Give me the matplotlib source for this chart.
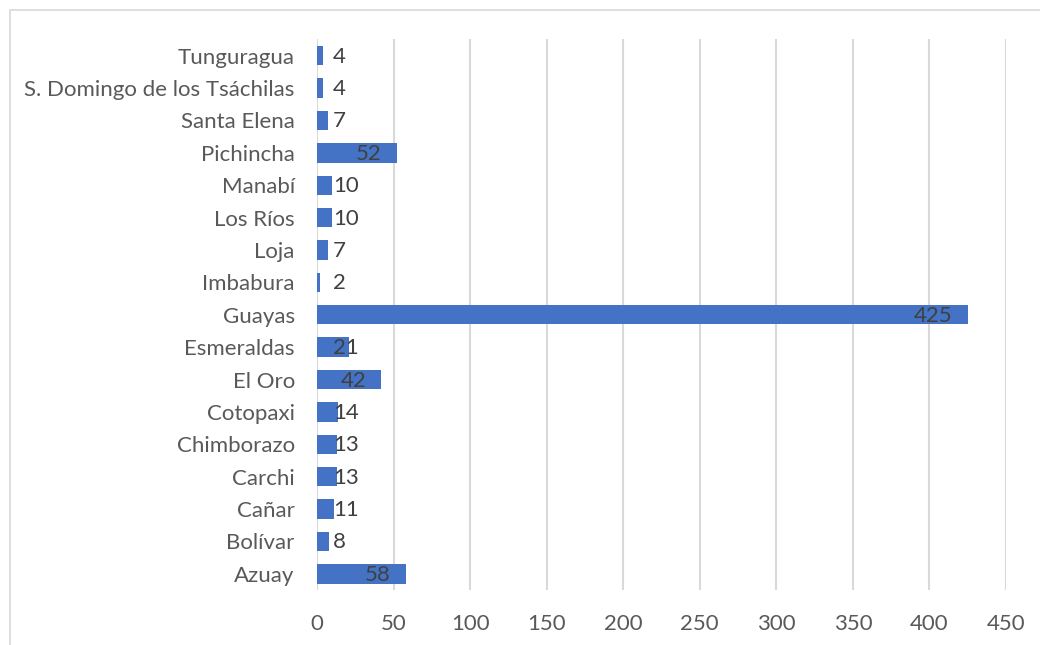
import matplotlib
matplotlib.use("Agg")
import matplotlib.pyplot as plt
from matplotlib.patches import Rectangle
from matplotlib.transforms import offset_copy

provinces = ["Azuay", "Bolívar", "Cañar", "Carchi", "Chimborazo", "Cotopaxi",
             "El Oro", "Esmeraldas", "Guayas", "Imbabura", "Loja", "Los Ríos",
             "Manabí", "Pichincha", "Santa Elena",
             "S. Domingo de los Tsáchilas", "Tunguragua"]
counts = [58, 8, 11, 13, 13, 14, 42, 21, 425, 2, 7, 10, 10, 52, 7, 4, 4]
x_ticks = [0, 50, 100, 150, 200, 250, 300, 350, 400, 450]

W, H = 1040, 645
fig = plt.figure(figsize=(W / 100, H / 100), dpi=100)
plt.rcParams['font.family'] = ['Lato', 'DejaVu Sans']
FS = 16

# chart area frame
fig.patches.append(Rectangle((10 / W, -0.1), 1.2, (H - 10) / H + 0.1,
                             transform=fig.transFigure, fill=False,
                             edgecolor='#d9d9d9', linewidth=1.2))

ax = fig.add_axes([317 / W, 1 - 590 / H, (1006 - 317) / W, (590 - 39.5) / H])
ypos = list(range(len(provinces)))
ax.barh(ypos, counts, height=0.6, color='#4472C4', zorder=3)
ax.set_xlim(0, 450)
ax.set_ylim(-0.5, len(provinces) - 0.5)
ax.set_xticks(x_ticks)
ax.set_yticks(ypos)
ax.set_yticklabels(provinces)
ax.xaxis.grid(True, color='#d9d9d9', linewidth=1.5, zorder=0)
ax.set_axisbelow(True)
for s in ax.spines.values():
    s.set_visible(False)
ax.tick_params(axis='both', length=0, labelsize=FS, labelcolor='#595959')
ax.tick_params(axis='x', pad=17)
ax.tick_params(axis='y', pad=16)

# value labels: inside the bar end when it fits, otherwise just past the axis
right_tr = offset_copy(ax.transData, fig=fig, x=-15, y=-1, units='dots')
left_tr = offset_copy(ax.transData, fig=fig, x=16, y=-1, units='dots')
for y, v in zip(ypos, counts):
    if v >= 40:
        ax.text(v, y, str(v), transform=right_tr, ha='right', va='center',
                fontsize=FS, color='#404040', zorder=4)
    else:
        ax.text(0, y, str(v), transform=left_tr, ha='left', va='center',
                fontsize=FS, color='#404040', zorder=4)

fig.savefig("out.png", dpi=100)
